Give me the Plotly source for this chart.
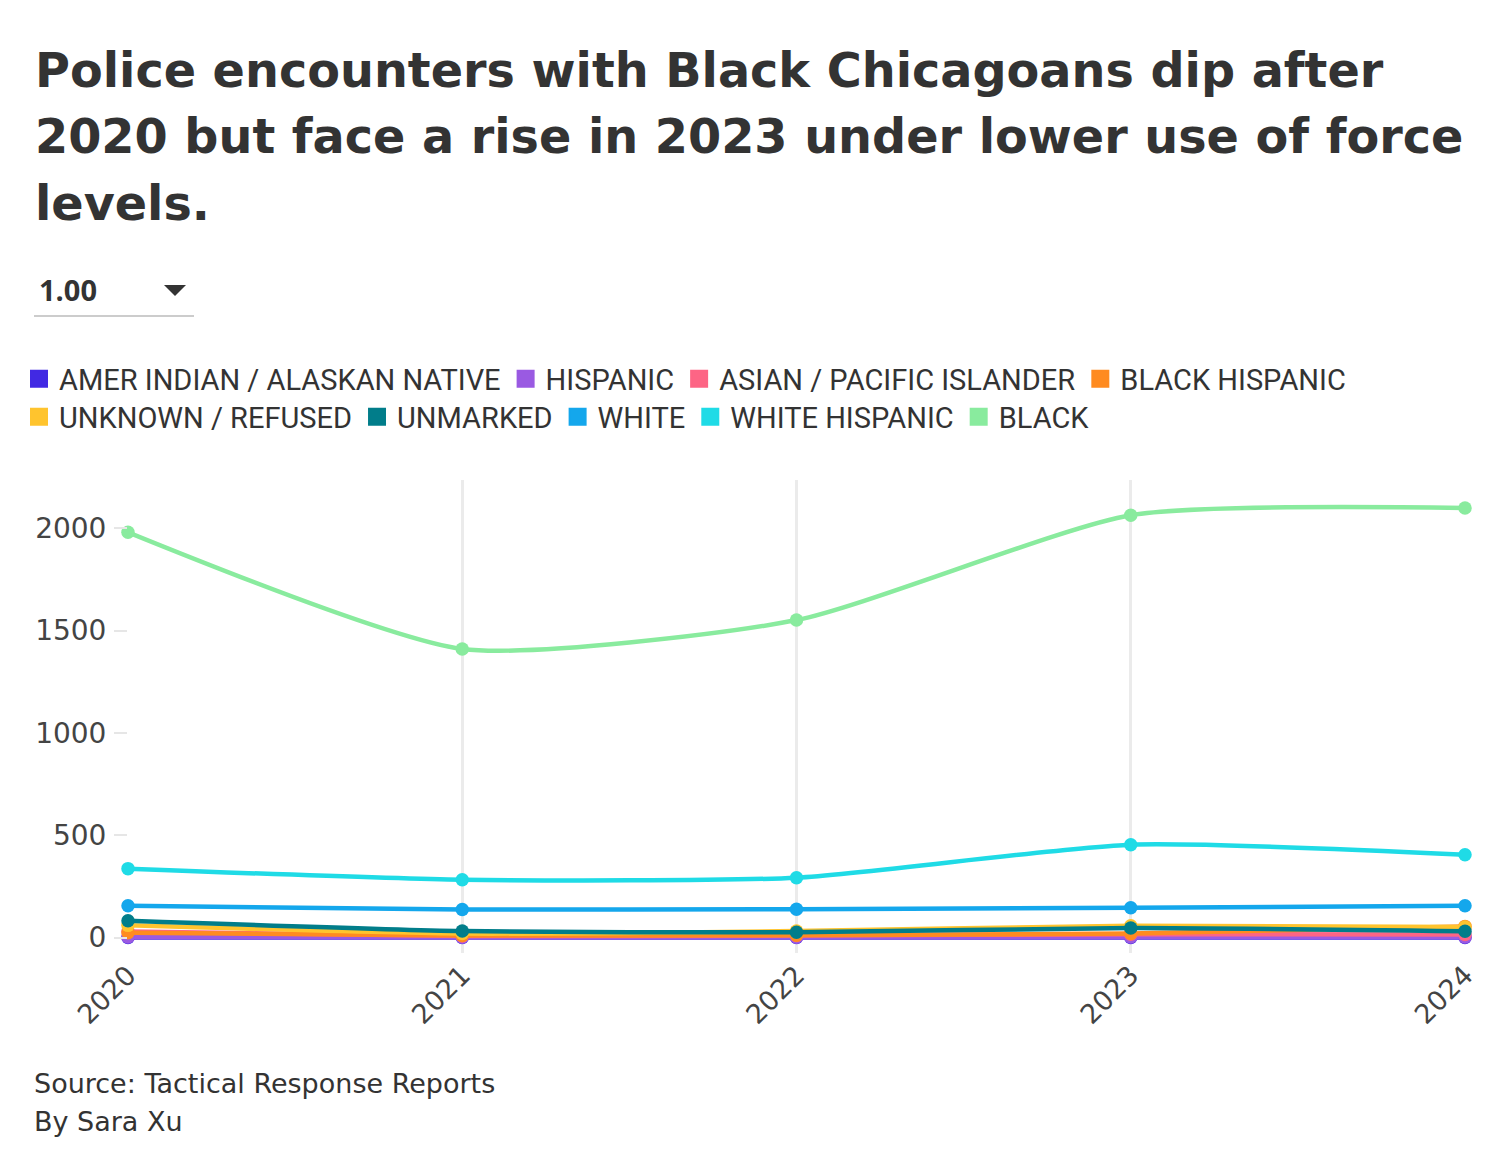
import plotly.graph_objects as go

years = [2020, 2021, 2022, 2023, 2024]
series_names = ["AMER INDIAN / ALASKAN NATIVE", "HISPANIC", "ASIAN / PACIFIC ISLANDER",
                "BLACK HISPANIC", "UNKNOWN / REFUSED", "UNMARKED", "WHITE",
                "WHITE HISPANIC", "BLACK"]
amer_indian = [1, 1, 1, 1, 1]
hispanic = [3, 2, 2, 3, 3]
asian = [30, 8, 10, 17, 15]
black_hispanic = [24, 10, 12, 20, 55]
unknown = [60, 20, 32, 58, 52]
unmarked = [83, 32, 26, 47, 31]
white = [156, 137, 139, 146, 156]
white_hispanic = [337, 283, 293, 454, 405]
black = [1980, 1410, 1551, 2063, 2098]
colors = ["#4129e3", "#9a5ae2", "#fd6585", "#ff8b20", "#ffc42e",
          "#017d8a", "#14a7ec", "#1fdbe6", "#89eb9e"]
values = [amer_indian, hispanic, asian, black_hispanic, unknown, unmarked,
          white, white_hispanic, black]
title_lines = ["Police encounters with Black Chicagoans dip after",
               "2020 but face a rise in 2023 under lower use of force",
               "levels."]
footer_lines = ["Source: Tactical Response Reports", "By Sara Xu"]
dropdown_value = "1.00"

W, H = 1486, 1154
ML, MR, MT, MB = 128, 21, 480, 201
PW = W - ML - MR
PH = H - MT - MB


def px(x):
    return (x - ML) / PW


def py(y):
    return (H - MB - y) / PH


TXT = "#333333"

fig = go.Figure()
for name, vals, col in zip(series_names, values, colors):
    fig.add_trace(go.Scatter(
        x=years, y=vals, name=name, mode="lines+markers",
        line=dict(color=col, width=4.5, shape="spline", smoothing=0.6),
        marker=dict(color=col, size=13.5),
        cliponaxis=False,
        showlegend=False, hoverinfo="x+y+name"))
for i, (name, col) in enumerate(zip(series_names, colors)):
    fig.add_trace(go.Scatter(
        x=[None], y=[None], name=name, mode="markers",
        marker=dict(color=col, size=16, symbol="square",
                    line=dict(color=col, width=2)),
        showlegend=True, legend="legend" if i < 4 else "legend2"))

legend_common = dict(orientation="h", xanchor="left", yanchor="middle",
                     font=dict(family="Roboto", size=29, color=TXT),
                     itemsizing="trace", itemwidth=30, traceorder="normal",
                     bgcolor="rgba(0,0,0,0)")

fig.update_layout(
    width=W, height=H,
    paper_bgcolor="white", plot_bgcolor="white",
    margin=dict(l=ML, r=MR, t=MT, b=MB, autoexpand=False),
    font=dict(family="Roboto", color=TXT),
    legend=dict(x=px(19), y=py(379), **legend_common),
    legend2=dict(x=px(19), y=py(417), **legend_common),
    xaxis=dict(range=[2020, 2024], tickvals=years, ticktext=[str(y) for y in years],
               tickangle=-45, showgrid=True, gridcolor="#ebebeb", gridwidth=2.5,
               zeroline=False, showline=False, ticks="",
               tickfont=dict(family="DejaVu Sans", size=27, color="#444444")),
    yaxis=dict(range=[-75, 2235], tickvals=[0, 500, 1000, 1500, 2000],
               showgrid=False, zeroline=False, showline=False,
               ticks="outside", ticklen=13, tickcolor="#e6e6e6", tickwidth=2,
               ticklabelstandoff=2,
               tickfont=dict(family="DejaVu Sans", size=28, color="#444444")),
)

# title
for line, cy in zip(title_lines, [70, 136.5, 203.5]):
    fig.add_annotation(text="<b>" + line + "</b>", xref="paper", yref="paper",
                       x=px(33), y=py(cy), xanchor="left", yanchor="middle",
                       showarrow=False,
                       font=dict(family="DejaVu Sans", size=47.7, color=TXT))

# dropdown-like control
fig.add_annotation(text="<b>" + dropdown_value + "</b>", xref="paper", yref="paper",
                   x=px(37), y=py(290), xanchor="left", yanchor="middle",
                   showarrow=False, font=dict(family="Open Sans", size=29, color=TXT))
fig.add_shape(type="path", xref="paper", yref="paper",
              path=f"M {px(164)} {py(285)} L {px(186)} {py(285)} L {px(175)} {py(296)} Z",
              fillcolor=TXT, line=dict(width=0))
fig.add_shape(type="line", xref="paper", yref="paper",
              x0=px(34), x1=px(194), y0=py(316), y1=py(316),
              line=dict(color="#cccccc", width=2))

# footer
for line, cy in zip(footer_lines, [1083, 1121]):
    fig.add_annotation(text=line, xref="paper", yref="paper",
                       x=px(32), y=py(cy), xanchor="left", yanchor="middle",
                       showarrow=False,
                       font=dict(family="DejaVu Sans", size=27, color=TXT))

fig.write_html("out.html", config={"displayModeBar": False},
               post_script="document.body.style.margin='0px';")
